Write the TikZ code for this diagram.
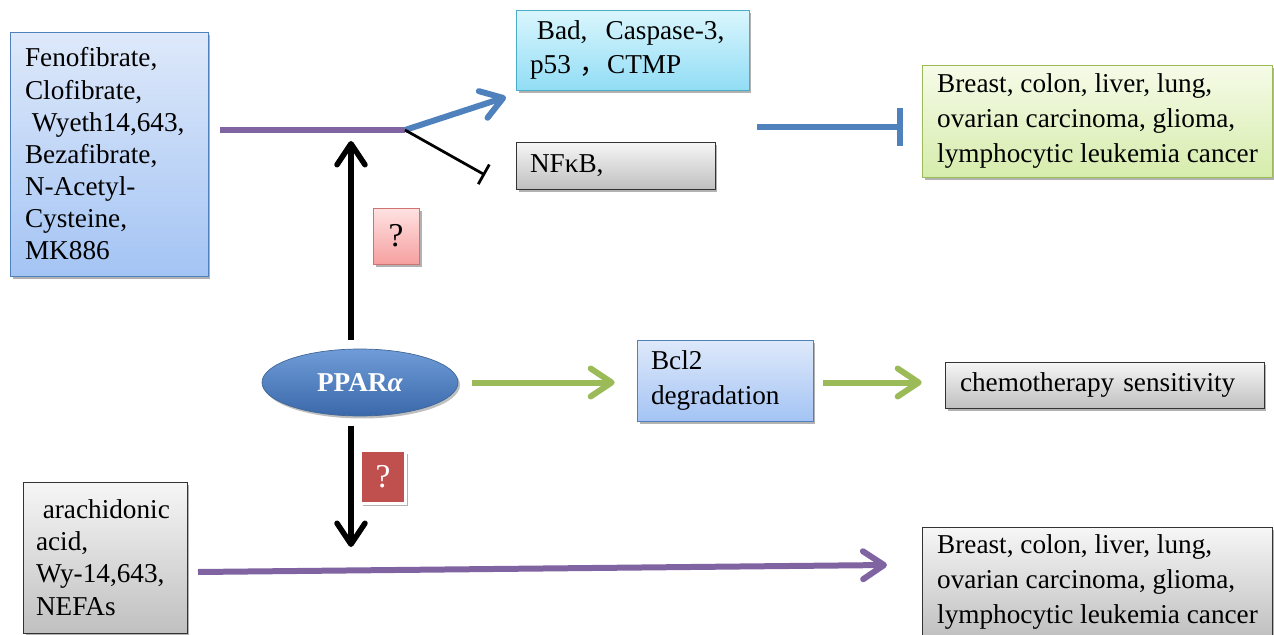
\documentclass[tikz,border=0pt]{standalone}
\usepackage{fontspec}
\setmainfont{Liberation Serif}
\newfontfamily\cjk{Noto Sans CJK SC}
\usepackage{xcolor}
\usepackage{tikz}
\usetikzlibrary{arrows.meta, shapes.geometric, positioning, shadows}

\definecolor{pblue}{RGB}{79,129,189}
\definecolor{pgreen}{RGB}{155,187,89}
\definecolor{ppurple}{RGB}{128,100,162}
\definecolor{pred}{RGB}{192,80,77}
\definecolor{pcyan}{RGB}{75,172,198}
\definecolor{bluetop}{RGB}{222,233,250}
\definecolor{bluebot}{RGB}{164,196,244}
\definecolor{cyantop}{RGB}{218,246,253}
\definecolor{cyanbot}{RGB}{146,221,245}
\definecolor{greytop}{RGB}{246,246,246}
\definecolor{greybot}{RGB}{192,192,192}
\definecolor{greentop}{RGB}{246,251,232}
\definecolor{greenbot}{RGB}{214,236,172}
\definecolor{redtop}{RGB}{255,226,226}
\definecolor{redbot}{RGB}{246,160,160}

\begin{document}
\begin{tikzpicture}[x=0.02cm, y=-0.02cm,
    box/.style={draw, align=left, inner xsep=0.28cm, inner ysep=0pt,
      font=\fontsize{15.5}{19.8}\selectfont,
      drop shadow={shadow xshift=0.05cm, shadow yshift=-0.06cm, opacity=0.3, fill=black}},
    bluebox/.style={box, draw=pblue, top color=bluetop, bottom color=bluebot},
    cyanbox/.style={box, draw=pcyan, top color=cyantop, bottom color=cyanbot},
    greybox/.style={box, draw=black!80, top color=greytop, bottom color=greybot},
    greenbox/.style={box, draw=pgreen, top color=greentop, bottom color=greenbot},
    qlight/.style={box, draw=pred!80, top color=redtop, bottom color=redbot,
      align=center, minimum width=0.92cm, minimum height=1.12cm, inner sep=0pt,
      font=\fontsize{19}{22}\selectfont},
    qdark/.style={box, draw=white, line width=0.06cm, fill=pred, text=white,
      align=center, minimum width=0.9cm, minimum height=1.06cm, inner sep=0pt,
      font=\fontsize{19}{22}\selectfont},
    pparnode/.style={ellipse, draw=pblue!80!black, inner sep=0pt,
      minimum width=3.92cm, minimum height=1.34cm,
      top color={rgb,255:red,112;green,157;blue,216},
      bottom color={rgb,255:red,58;green,104;blue,170},
      text=white, font=\fontsize{15.5}{17}\selectfont,
      drop shadow={shadow xshift=0.04cm, shadow yshift=-0.05cm, opacity=0.25, fill=black}},
    openhead/.style={-{Straight Barb[length=0.42cm, width=0.56cm, round]}},
    purpleline/.style={draw=ppurple, line width=0.12cm},
    greenarrow/.style={draw=pgreen, line width=0.12cm, openhead},
    blackarrow/.style={draw=black, line width=0.11cm, openhead},
  ]
  \useasboundingbox (0,0) rectangle (1274,635);

  % upper row
  \node[bluebox, text width=3.36cm, inner xsep=0.3cm, minimum height=4.88cm,
        font=\fontsize{15.5}{18.3}\selectfont]
        (drugs) at (109,154) {Fenofibrate,\\ Clofibrate,\\ \hspace*{0.25em}Wyeth14,643,\\
        Bezafibrate,\\ N-Acetyl-\\ Cysteine,\\ MK886};
  \node[cyanbox, text width=4.1cm, minimum height=1.6cm]
        (bad) at (632.5,50) {\hspace*{0.25em}Bad,\ \ Caspase-3,\\ p53\ {\cjk ，}CTMP};
  \node[greybox, text width=3.42cm, minimum height=0.94cm]
        (nfkb) at (615.5,165.5) {NFκB,};
  \node[greenbox, minimum width=7cm, minimum height=2.24cm]
        (cancerA) at (1097.5,121) {Breast, colon, liver, lung,\\ ovarian carcinoma, glioma,\\ lymphocytic leukemia cancer};
  \node[qlight] (qa) at (396,236) {?};

  % middle row
  \node[pparnode] (ppar) at (360,382.5) {\textbf{PPAR\textit{α}}};
  \node[bluebox, text width=2.96cm, minimum height=1.62cm]
        (bcl) at (725,380.5) {Bcl2\\ degradation};
  \node[greybox, text width=5.78cm, inner xsep=0.3cm, minimum height=0.92cm]
        (chemo) at (1104.5,385) {chemotherapy sensitivity};

  % lower row
  \node[qdark] (qb) at (383,477) {?};
  \node[greybox, text width=2.76cm, inner xsep=0.26cm, minimum height=3.02cm,
        font=\fontsize{15.5}{18.3}\selectfont]
        (arach) at (105,557.5) {\hspace*{0.25em}arachidonic\\ acid,\\ Wy-14,643,\\ NEFAs};
  \node[greybox, minimum width=7cm, minimum height=2.2cm]
        (cancerB) at (1097.5,582) {Breast, colon, liver, lung,\\ ovarian carcinoma, glioma,\\ lymphocytic leukemia cancer};

  % free ends
  \coordinate (branch) at (405,130);
  \coordinate (badtip) at (506,97);
  \coordinate (nfkbbar) at (485,175);
  \coordinate (uptip) at (351,141);
  \coordinate (downtip) at (351,547);
  \coordinate (tstart) at (757,127);
  \coordinate (arachout) at (198,572);
  \coordinate (cbtip) at (887,565);

  % connectors
  \draw[purpleline, shorten <=0.24cm] (drugs.east |- branch) -- (branch);
  \draw[draw=pblue, line width=0.12cm, openhead] (branch) -- (badtip);
  \draw[line width=0.055cm, -{Bar[width=0.45cm]}] (branch) -- (nfkbbar);
  \draw[draw=pblue, line width=0.12cm, -{Bar[width=0.78cm]}, shorten >=0.38cm]
        (tstart) -- (tstart -| cancerA.west);
  \draw[blackarrow, shorten <=0.18cm] (ppar.north -| uptip) -- (uptip);
  \draw[blackarrow, shorten <=0.2cm] (ppar.south -| downtip) -- (downtip);
  \draw[greenarrow, shorten <=0.28cm, shorten >=0.44cm] (ppar.east) -- (bcl.west |- ppar.east);
  \draw[greenarrow, shorten <=0.2cm, shorten >=0.46cm] (bcl.east |- ppar.east) -- (chemo.west |- ppar.east);
  \draw[purpleline, openhead] (arachout) -- (cbtip);
\end{tikzpicture}
\end{document}
